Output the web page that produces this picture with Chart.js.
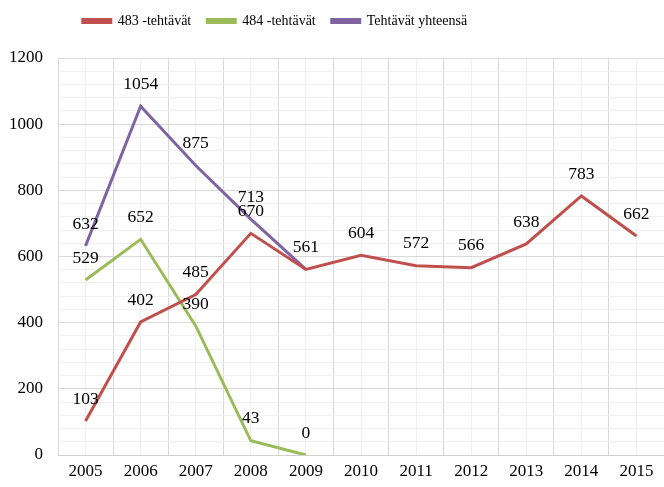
<!DOCTYPE html>
<html>
<head>
<meta charset="utf-8">
<script src="https://cdn.jsdelivr.net/npm/chart.js@4/dist/chart.umd.min.js"></script>
<style>
html,body{margin:0;padding:0;background:#fff;}
#wrap{width:664px;height:487px;}
</style>
</head>
<body>
<div id="wrap"><canvas id="c" width="664" height="487"></canvas></div>
<script>
const years = ['2005','2006','2007','2008','2009','2010','2011','2012','2013','2014','2015'];
const series483 = [103, 402, 485, 670, 561, 604, 572, 566, 638, 783, 662];
const series484 = [529, 652, 390, 43, 0, null, null, null, null, null, null];
const seriesTotal = [632, 1054, 875, 713, 561, null, null, null, null, null, null];
const seriesNames = ['483 -tehtävät', '484 -tehtävät', 'Tehtävät yhteensä'];
const seriesColors = ['#C0504D', '#9BBB59', '#8064A2'];

const FONT = 'Liberation Serif, Times New Roman, serif';

const labelPlugin = {
  id: 'dataLabels',
  afterDatasetsDraw(chart) {
    const ctx = chart.ctx;
    ctx.save();
    ctx.font = '17.5px ' + FONT;
    ctx.fillStyle = '#000';
    ctx.textAlign = 'center';
    ctx.textBaseline = 'middle';
    const seen = new Set();
    chart.data.datasets.forEach((ds, di) => {
      const meta = chart.getDatasetMeta(di);
      meta.data.forEach((pt, i) => {
        const v = ds.data[i];
        if (v === null || v === undefined) return;
        const key = i + ':' + v;
        if (seen.has(key)) return;
        seen.add(key);
        ctx.fillText(String(v), pt.x, pt.y - 22);
      });
    });
    ctx.restore();
  }
};

const legendAdjust = {
  id: 'legendAdjust',
  beforeInit(chart) {
    const lg = chart.legend;
    if (lg) {
      const origFit = lg.fit;
      lg.fit = function () {
        origFit.call(this);
        this.height += 20;
      };
    }
  },
  afterLayout(chart) {
    if (chart.legend) {
      chart.legend.left -= 57;
      chart.legend.right -= 57;
    }
  }
};

new Chart(document.getElementById('c'), {
  type: 'line',
  data: {
    labels: years,
    datasets: [
      { label: seriesNames[0], data: series483, borderColor: seriesColors[0], backgroundColor: seriesColors[0], borderWidth: 3, pointRadius: 0, tension: 0 },
      { label: seriesNames[1], data: series484, borderColor: seriesColors[1], backgroundColor: seriesColors[1], borderWidth: 3, pointRadius: 0, tension: 0 },
      { label: seriesNames[2], data: seriesTotal, borderColor: seriesColors[2], backgroundColor: seriesColors[2], borderWidth: 3, pointRadius: 0, tension: 0 }
    ]
  },
  options: {
    responsive: false,
    animation: false,
    layout: { padding: { left: 0, right: 0, top: -2, bottom: 0 } },
    plugins: {
      tooltip: { enabled: false },
      legend: {
        position: 'top',
        labels: {
          font: { family: FONT, size: 14 },
          color: '#000',
          boxWidth: 28,
          boxHeight: 3,
          padding: 16
        }
      }
    },
    scales: {
      x: {
        type: 'category',
        offset: true,
        grid: { offset: true, color: '#d9d9d9', drawTicks: false },
        border: { color: '#d0d0d0' },
        ticks: { font: { family: FONT, size: 17 }, color: '#000', padding: 6 },
        afterFit(scale) { scale.height = 32; }
      },
      x2: {
        type: 'category',
        labels: years,
        position: 'bottom',
        offset: true,
        grid: { offset: false, color: '#f0f0f0', drawTicks: false },
        border: { display: false },
        ticks: { display: false },
        afterFit(scale) { scale.height = 0; }
      },
      y: {
        min: 0,
        max: 1200,
        ticks: {
          stepSize: 40,
          autoSkip: false,
          font: { family: FONT, size: 17 },
          color: '#000',
          padding: 15,
          callback: (v) => (v % 200 === 0 ? String(v) : '')
        },
        grid: {
          drawTicks: false,
          color: (c) => (c.tick && c.tick.value % 200 === 0 ? '#d9d9d9' : '#f0f0f0')
        },
        border: { display: false },
        afterFit(scale) { scale.width = 58; }
      }
    }
  },
  plugins: [labelPlugin, legendAdjust]
});
</script>
</body>
</html>
